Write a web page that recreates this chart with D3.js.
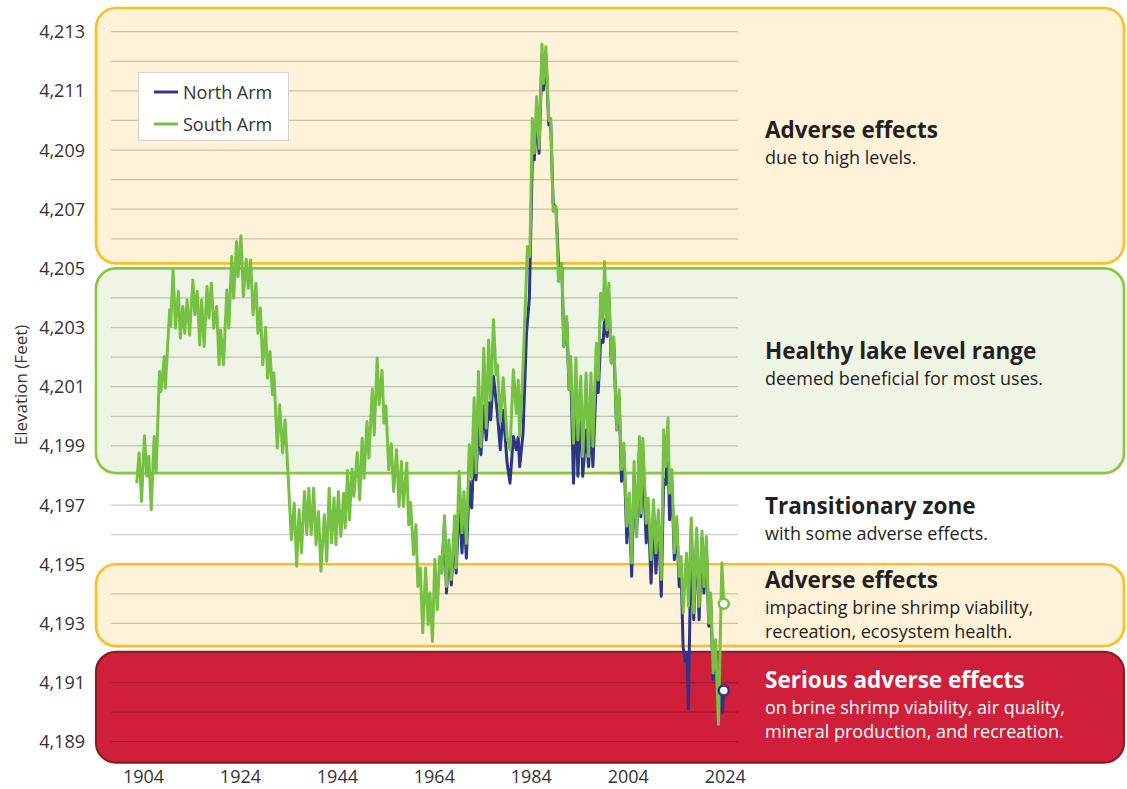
<!DOCTYPE html>
<html>
<head>
<meta charset="utf-8">
<script src="https://cdn.jsdelivr.net/npm/d3@7"></script>
<style>
  html, body { margin: 0; padding: 0; background: #ffffff; }
  svg { display: block; font-family: "Open Sans", "Noto Sans", sans-serif; }
</style>
</head>
<body>
<svg id="chart" width="1127" height="789"></svg>
<script>
// Great Salt Lake surface elevation (feet), seasonal highs and lows.
const southYears = [
  1902.6, 1903.1, 1903.6, 1904.2, 1904.7, 1905.1, 1905.6, 1906.2, 1906.6, 1907.3,
  1907.6, 1908.3, 1908.5, 1909.4, 1909.6, 1910.1, 1910.6, 1911.2, 1911.6, 1912.1,
  1912.5, 1913.0, 1913.5, 1914.2, 1914.6, 1915.1, 1915.6, 1916.0, 1916.5, 1917.1,
  1917.5, 1918.0, 1918.5, 1919.1, 1919.6, 1919.9, 1920.5, 1921.2, 1921.6, 1922.2,
  1922.6, 1923.2, 1923.5, 1924.1, 1924.6, 1925.2, 1925.6, 1926.1, 1926.6, 1927.2,
  1927.6, 1928.1, 1928.6, 1929.2, 1929.6, 1930.1, 1930.6, 1930.9, 1931.6, 1932.1,
  1932.7, 1933.2, 1933.9, 1934.5, 1935.1, 1935.6, 1936.1, 1936.6, 1937.2, 1937.7,
  1938.1, 1938.6, 1939.1, 1939.6, 1940.1, 1940.6, 1941.3, 1941.8, 1942.3, 1942.8,
  1943.3, 1943.7, 1944.2, 1944.7, 1945.3, 1945.6, 1946.1, 1946.5, 1947.0, 1947.4,
  1948.1, 1948.6, 1949.1, 1949.5, 1950.1, 1950.5, 1951.2, 1951.6, 1952.2, 1952.6,
  1953.2, 1953.6, 1954.0, 1954.6, 1955.1, 1955.6, 1956.2, 1956.7, 1957.2, 1957.6,
  1958.3, 1958.7, 1959.1, 1959.7, 1960.2, 1960.6, 1961.1, 1961.6, 1962.2, 1962.7,
  1963.1, 1963.6, 1964.1, 1964.6, 1965.1, 1965.5, 1966.1, 1966.5, 1967.0, 1967.5,
  1968.2, 1968.5, 1969.1, 1969.7, 1970.1, 1970.6, 1971.2, 1971.7, 1972.2, 1972.6,
  1973.1, 1973.6, 1974.2, 1974.7, 1975.2, 1975.6, 1976.2, 1976.7, 1977.0, 1977.6,
  1978.2, 1979.0, 1979.6, 1980.3, 1980.9, 1981.3, 1981.6, 1982.3, 1983.0, 1983.2,
  1983.7, 1984.2, 1984.6, 1985.1, 1985.6, 1986.2, 1986.5, 1987.0, 1987.6, 1988.0,
  1988.5, 1989.1, 1989.6, 1990.3, 1990.7, 1991.3, 1991.8, 1992.1, 1992.7, 1993.2,
  1993.6, 1994.2, 1994.6, 1995.3, 1995.8, 1996.3, 1996.7, 1997.4, 1997.8, 1998.3,
  1998.8, 1999.1, 1999.6, 2000.0, 2000.5, 2001.0, 2001.6, 2002.1, 2002.6, 2003.1,
  2003.7, 2004.2, 2004.7, 2005.2, 2005.7, 2006.3, 2006.6, 2007.0, 2007.7, 2008.1,
  2008.7, 2009.2, 2009.7, 2010.2, 2010.8, 2011.3, 2011.7, 2012.2, 2012.5, 2013.0,
  2013.5, 2014.0, 2014.5, 2014.9, 2015.3, 2016.0, 2016.4, 2017.0, 2017.5, 2018.1,
  2018.6, 2019.2, 2019.6, 2020.1, 2020.6, 2021.0, 2021.5, 2022.0, 2022.6, 2023.3,
  2023.7
];
const southLevels = [
  4197.74, 4198.76, 4197.12, 4199.34, 4197.97, 4198.64, 4196.84, 4199.32, 4198.08, 4201.51,
  4200.84, 4202.02, 4200.95, 4203.60, 4203.03, 4204.93, 4202.98, 4204.22, 4202.64, 4203.71,
  4202.81, 4203.94, 4202.75, 4204.61, 4203.43, 4204.22, 4202.41, 4203.94, 4202.36, 4204.39,
  4203.32, 4204.50, 4202.98, 4203.71, 4201.74, 4202.92, 4201.74, 4204.27, 4202.98, 4205.40,
  4203.99, 4205.91, 4204.72, 4206.10, 4204.05, 4205.31, 4204.33, 4205.29, 4203.43, 4204.50,
  4202.81, 4203.66, 4201.74, 4203.01, 4201.29, 4202.19, 4200.73, 4201.46, 4198.93, 4200.39,
  4198.76, 4199.88, 4197.80, 4195.83, 4197.07, 4194.93, 4196.84, 4195.38, 4197.46, 4196.00,
  4197.57, 4196.00, 4197.57, 4195.66, 4196.78, 4194.76, 4196.67, 4195.09, 4197.57, 4195.72,
  4197.24, 4195.66, 4197.46, 4195.94, 4197.40, 4196.22, 4198.17, 4196.50, 4198.22, 4197.29,
  4198.78, 4197.18, 4199.26, 4197.91, 4199.82, 4198.59, 4200.92, 4199.37, 4201.97, 4200.39,
  4201.55, 4199.77, 4200.35, 4198.19, 4199.07, 4197.46, 4198.87, 4196.95, 4198.47, 4196.95,
  4198.42, 4196.33, 4197.09, 4195.32, 4196.33, 4194.25, 4194.87, 4192.68, 4194.87, 4192.96,
  4194.03, 4192.39, 4195.17, 4193.46, 4195.26, 4194.70, 4196.64, 4194.25, 4195.83, 4194.48,
  4196.64, 4194.87, 4198.14, 4196.06, 4197.46, 4195.70, 4199.04, 4197.90, 4200.63, 4198.09,
  4201.51, 4198.98, 4202.30, 4199.60, 4202.58, 4200.56, 4203.26, 4201.40, 4201.74, 4199.80,
  4201.30, 4199.30, 4198.87, 4201.57, 4200.10, 4201.23, 4199.32, 4201.68, 4204.84, 4205.74,
  4205.40, 4210.07, 4208.90, 4210.80, 4209.06, 4212.58, 4211.26, 4212.49, 4210.00, 4210.07,
  4206.92, 4207.09, 4204.55, 4205.18, 4202.36, 4203.37, 4200.90, 4202.02, 4199.09, 4201.97,
  4199.20, 4201.35, 4198.64, 4201.46, 4198.64, 4201.46, 4198.98, 4202.47, 4201.23, 4204.16,
  4203.26, 4205.23, 4202.92, 4204.50, 4201.80, 4202.69, 4199.54, 4200.90, 4198.20, 4199.09,
  4196.28, 4197.40, 4195.04, 4198.47, 4195.94, 4199.32, 4196.73, 4199.26, 4196.39, 4197.24,
  4195.15, 4197.18, 4195.38, 4196.84, 4194.48, 4199.54, 4198.30, 4199.94, 4197.40, 4198.19,
  4195.38, 4196.61, 4194.59, 4195.26, 4193.35, 4195.38, 4193.57, 4196.56, 4193.35, 4196.22,
  4193.57, 4196.11, 4194.25, 4195.94, 4193.01, 4194.03, 4191.32, 4192.45, 4189.58, 4195.04,
  4193.66
];

// North Arm record after the two arms separated.
const northYears = [
  1965.5, 1966.1, 1966.5, 1967.0, 1967.5, 1968.2, 1968.5, 1969.1, 1969.7, 1970.1,
  1970.6, 1971.2, 1971.7, 1972.2, 1972.6, 1973.1, 1973.6, 1974.2, 1974.7, 1975.2,
  1975.6, 1976.2, 1977.0, 1977.6, 1978.2, 1979.0, 1979.6, 1980.3, 1980.9, 1981.3,
  1981.6, 1982.3, 1983.0, 1983.6, 1984.2, 1984.6, 1985.1, 1985.6, 1986.2, 1986.5,
  1987.0, 1987.6, 1988.0, 1988.5, 1989.1, 1989.6, 1990.3, 1990.7, 1991.3, 1991.8,
  1992.1, 1992.7, 1993.2, 1993.6, 1994.2, 1994.6, 1995.3, 1995.8, 1996.3, 1996.7,
  1997.4, 1997.8, 1998.3, 1998.8, 1999.1, 1999.6, 2000.0, 2000.5, 2001.0, 2001.6,
  2002.1, 2002.6, 2003.1, 2003.7, 2004.2, 2004.7, 2005.2, 2005.7, 2006.3, 2006.6,
  2007.0, 2007.7, 2008.1, 2008.7, 2009.2, 2009.7, 2010.2, 2010.8, 2011.3, 2011.7,
  2012.2, 2012.5, 2013.0, 2013.5, 2014.0, 2014.5, 2014.9, 2015.3, 2015.8, 2016.1,
  2016.4, 2017.0, 2017.5, 2018.1, 2018.6, 2019.2, 2019.6, 2020.1, 2020.6, 2021.0,
  2021.5, 2022.0, 2022.6, 2023.1, 2023.4, 2023.7
];
const northLevels = [
  4194.70, 4196.40, 4194.03, 4195.60, 4194.30, 4196.30, 4194.70, 4197.20, 4195.38, 4196.80,
  4195.20, 4197.80, 4196.90, 4198.98, 4197.85, 4199.88, 4198.70, 4200.35, 4199.20, 4200.46,
  4199.88, 4201.35, 4200.10, 4198.87, 4200.20, 4198.42, 4197.74, 4199.32, 4198.87, 4199.30,
  4198.30, 4199.44, 4202.80, 4204.00, 4208.67, 4208.67, 4210.00, 4208.89, 4212.20, 4211.03,
  4212.20, 4209.85, 4209.90, 4207.20, 4207.00, 4205.20, 4205.00, 4202.36, 4203.20, 4200.90,
  4201.70, 4197.74, 4200.67, 4197.97, 4200.44, 4197.97, 4199.54, 4198.30, 4199.77, 4198.30,
  4201.24, 4200.80, 4202.58, 4202.50, 4203.26, 4202.70, 4203.90, 4201.80, 4202.50, 4199.54,
  4200.60, 4197.80, 4198.80, 4195.72, 4197.10, 4194.59, 4198.00, 4195.94, 4198.90, 4196.60,
  4198.70, 4195.72, 4196.90, 4194.36, 4196.80, 4194.70, 4196.50, 4193.92, 4197.86, 4197.70,
  4198.98, 4196.50, 4197.70, 4195.15, 4196.30, 4194.25, 4194.80, 4192.20, 4191.70, 4192.00,
  4190.10, 4196.28, 4193.12, 4196.00, 4193.12, 4195.90, 4194.03, 4195.70, 4192.90, 4193.80,
  4191.10, 4192.20, 4190.42, 4190.80, 4189.97, 4190.73
];

const seriesNames = ["North Arm", "South Arm"];
const xTickYears = [1904, 1924, 1944, 1964, 1984, 2004, 2024];
const yTickLevels = [4189, 4191, 4193, 4195, 4197, 4199, 4201, 4203, 4205, 4207, 4209, 4211, 4213];

// Lake level zones (elevation limits in feet) and their descriptions.
const zoneKeys   = ["high", "healthy", "transition", "low", "serious"];
const zoneUpper  = [4213.8, 4205.0, 4198.0, 4195.0, 4192.04];
const zoneLower  = [4205.17, 4198.08, 4195.0, 4192.23, 4188.29];
const zoneTitles = ["Adverse effects", "Healthy lake level range", "Transitionary zone",
                    "Adverse effects", "Serious adverse effects"];
const zoneNotes  = [
  ["due to high levels."],
  ["deemed beneficial for most uses."],
  ["with some adverse effects."],
  ["impacting brine shrimp viability,", "recreation, ecosystem health."],
  ["on brine shrimp viability, air quality,", "mineral production, and recreation."]
];

// ---- layout & styling ----
const zoneStyle = {
  high:       { fill: "#fef2d8", stroke: "#fdbf20", width: 2.6, text: "#231f20" },
  healthy:    { fill: "#eff5e5", stroke: "#8cc63f", width: 2.6, text: "#231f20" },
  transition: { fill: null,      stroke: null,      width: 0,   text: "#231f20" },
  low:        { fill: "#fef2d8", stroke: "#fdbf20", width: 2.6, text: "#231f20" },
  serious:    { fill: "#cf1f3a", stroke: "#8c1a22", width: 2.2, text: "#ffffff" }
};
const zoneLabelBaseline = [138, 359, 514, 588, 688];
const seriesColor = { "North Arm": "#2e3586", "South Arm": "#76c043" };

const svg = d3.select("#chart");
const x = d3.scaleLinear().domain([1897.3, 2026.63]).range([111, 738]);
const y = d3.scaleLinear().domain([4189, 4213]).range([741.7, 31.7]);

// zone bands
const zones = zoneKeys.map((k, i) => ({
  key: k, upper: zoneUpper[i], lower: zoneLower[i],
  title: zoneTitles[i], notes: zoneNotes[i], style: zoneStyle[k], labelY: zoneLabelBaseline[i]
}));

svg.append("g").selectAll("rect")
  .data(zones.filter(z => z.style.fill))
  .join("rect")
  .attr("x", 96).attr("width", 1028)
  .attr("y", d => y(d.upper))
  .attr("height", d => y(d.lower) - y(d.upper))
  .attr("rx", 20).attr("ry", 20)
  .attr("fill", d => d.style.fill)
  .attr("stroke", d => d.style.stroke)
  .attr("stroke-width", d => d.style.width);

// horizontal gridlines every foot, omitted where a zone edge sits
const edges = zones.filter(z => z.style.fill).flatMap(z => [z.upper, z.lower]).concat([4198.0, 4195.0]);
const gridLevels = d3.range(4189, 4214).filter(v => edges.every(e => Math.abs(e - v) > 0.3));
svg.append("g").selectAll("line")
  .data(gridLevels)
  .join("line")
  .attr("x1", x.range()[0]).attr("x2", x.range()[1])
  .attr("y1", d => y(d)).attr("y2", d => y(d))
  .attr("stroke", "#000").attr("stroke-opacity", 0.2).attr("stroke-width", 1.3);

// y axis labels
const fmt = d3.format(",");
svg.append("g").selectAll("text")
  .data(yTickLevels)
  .join("text")
  .attr("x", 85).attr("y", d => y(d) + 6.5)
  .attr("text-anchor", "end")
  .attr("font-size", 18).attr("fill", "#333")
  .text(d => fmt(d));

// x axis labels
svg.append("g").selectAll("text")
  .data(xTickYears)
  .join("text")
  .attr("x", d => x(d)).attr("y", 783)
  .attr("text-anchor", "middle")
  .attr("font-size", 18).attr("fill", "#333")
  .text(d => d);

// axis title
svg.append("text")
  .attr("transform", "translate(27,385) rotate(-90)")
  .attr("text-anchor", "middle")
  .attr("font-size", 17).attr("fill", "#333")
  .text("Elevation (Feet)");

// elevation lines
const line = d3.line().x(d => x(d[0])).y(d => y(d[1]));
const series = [
  { name: "North Arm", pts: d3.zip(northYears, northLevels) },
  { name: "South Arm", pts: d3.zip(southYears, southLevels) }
];
svg.append("g").selectAll("path")
  .data(series)
  .join("path")
  .attr("d", d => line(d.pts))
  .attr("fill", "none")
  .attr("stroke", d => seriesColor[d.name])
  .attr("stroke-width", 3)
  .attr("stroke-linejoin", "round");

// latest reading markers
svg.append("g").selectAll("circle")
  .data(series)
  .join("circle")
  .attr("cx", d => x(d.pts[d.pts.length - 1][0]))
  .attr("cy", d => y(d.pts[d.pts.length - 1][1]))
  .attr("r", 5)
  .attr("fill", "#fff")
  .attr("stroke", d => seriesColor[d.name])
  .attr("stroke-width", 2.5);

// legend
const legend = svg.append("g");
legend.append("rect")
  .attr("x", 138.5).attr("y", 72.5).attr("width", 150).attr("height", 68)
  .attr("fill", "#fff").attr("stroke", "#d2d2d2").attr("stroke-width", 1);
const li = legend.selectAll("g.item").data(seriesNames).join("g").attr("class", "item")
  .attr("transform", (d, i) => `translate(0,${92 + i * 32})`);
li.append("line").attr("x1", 154).attr("x2", 178).attr("y1", 0).attr("y2", 0)
  .attr("stroke", d => seriesColor[d]).attr("stroke-width", 3);
li.append("text").attr("x", 183).attr("y", 7)
  .attr("font-size", 18).attr("fill", "#333").text(d => d);

// zone descriptions
const labels = svg.append("g").selectAll("g")
  .data(zones)
  .join("g")
  .attr("fill", d => d.style.text);
labels.append("text")
  .attr("x", 765).attr("y", d => d.labelY)
  .attr("font-size", 22.5).attr("font-weight", 700)
  .text(d => d.title);
labels.each(function (d) {
  d3.select(this).selectAll("text.note")
    .data(d.notes)
    .join("text")
    .attr("class", "note")
    .attr("x", 765).attr("y", (t, j) => d.labelY + 26 + j * 23.5)
    .attr("font-size", 18)
    .text(t => t);
});
</script>
</body>
</html>
